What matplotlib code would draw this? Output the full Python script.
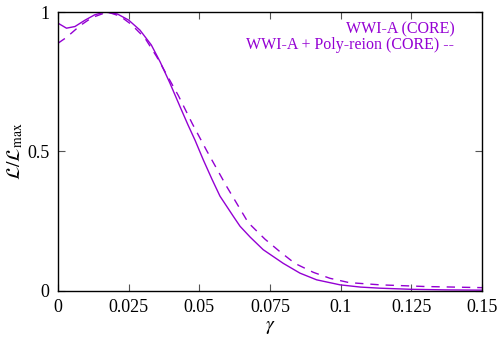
import matplotlib
matplotlib.use("Agg")
import matplotlib.pyplot as plt

plt.rcParams['font.family'] = ['Liberation Serif', 'DejaVu Serif']
plt.rcParams['mathtext.fontset'] = 'stix'

# WWI-A (CORE), solid
gamma_a = [0, 0.003, 0.006, 0.0096, 0.013, 0.0166, 0.021, 0.025, 0.029, 0.033,
           0.0361, 0.0396, 0.0432, 0.046, 0.0485, 0.0514, 0.0545, 0.0573, 0.062,
           0.0644, 0.068, 0.0726, 0.0797, 0.0856, 0.0915, 0.0998, 0.107, 0.114,
           0.125, 0.137, 0.15]
like_a = [0.96, 0.942, 0.948, 0.971, 0.99, 1.0, 0.993, 0.971, 0.935, 0.882,
          0.822, 0.745, 0.66, 0.595, 0.54, 0.47, 0.40, 0.34, 0.268,
          0.232, 0.193, 0.148, 0.099, 0.064, 0.040, 0.022, 0.014, 0.01,
          0.006, 0.004, 0.003]

# WWI-A + Poly-reion (CORE), dashed
gamma_b = [0, 0.003, 0.0078, 0.012, 0.0175, 0.022, 0.026, 0.0308, 0.0349,
           0.0426, 0.0475, 0.0526, 0.0597, 0.0673, 0.0732, 0.0785, 0.0838,
           0.0903, 0.0962, 0.103, 0.114, 0.13, 0.15]
like_b = [0.888, 0.909, 0.951, 0.98, 1.0, 0.985, 0.955, 0.906, 0.84,
          0.70, 0.60, 0.503, 0.374, 0.245, 0.186, 0.141, 0.099,
          0.067, 0.0455, 0.03, 0.022, 0.016, 0.012]

xticks = [0, 0.025, 0.05, 0.075, 0.1, 0.125, 0.15]
xlabels = ["0", "0.025", "0.05", "0.075", "0.1", "0.125", "0.15"]
yticks = [0, 0.5, 1]
ylabels = ["0", "0.5", "1"]

col = '#9400d3'

fig = plt.figure(figsize=(5, 3.5), dpi=100)
ax = fig.add_axes([0.116, 0.1686, 0.848, 0.7971])

ax.plot(gamma_a, like_a, color=col, lw=1.0)
ln, = ax.plot(gamma_b, like_b, color=col, lw=1.0)
ln.set_dashes((6, 5))

ax.set_xlim(0, 0.15)
ax.set_ylim(0, 1)
ax.set_xticks(xticks)
ax.set_xticklabels(xlabels)
ax.set_yticks(yticks)
ax.set_yticklabels(ylabels)
ax.tick_params(direction='in', top=True, right=True, labelsize=13,
               length=5, color='#555555', pad=6)
for s in ax.spines.values():
    s.set_linewidth(1.0)

ax.set_xlabel(r'$\gamma$', fontsize=14, labelpad=2)
ax.set_ylabel(r'$\mathcal{L}/\mathcal{L}_{\rm max}$', fontsize=14, labelpad=2)

ax.text(0.935, 0.925, "WWI-A (CORE)", transform=ax.transAxes, ha='right',
        va='baseline', color=col, fontsize=11.5)
ax.text(0.935, 0.868, "WWI-A + Poly-reion (CORE) --", transform=ax.transAxes,
        ha='right', va='baseline', color=col, fontsize=11.5)

fig.savefig("out.png", dpi=100)
